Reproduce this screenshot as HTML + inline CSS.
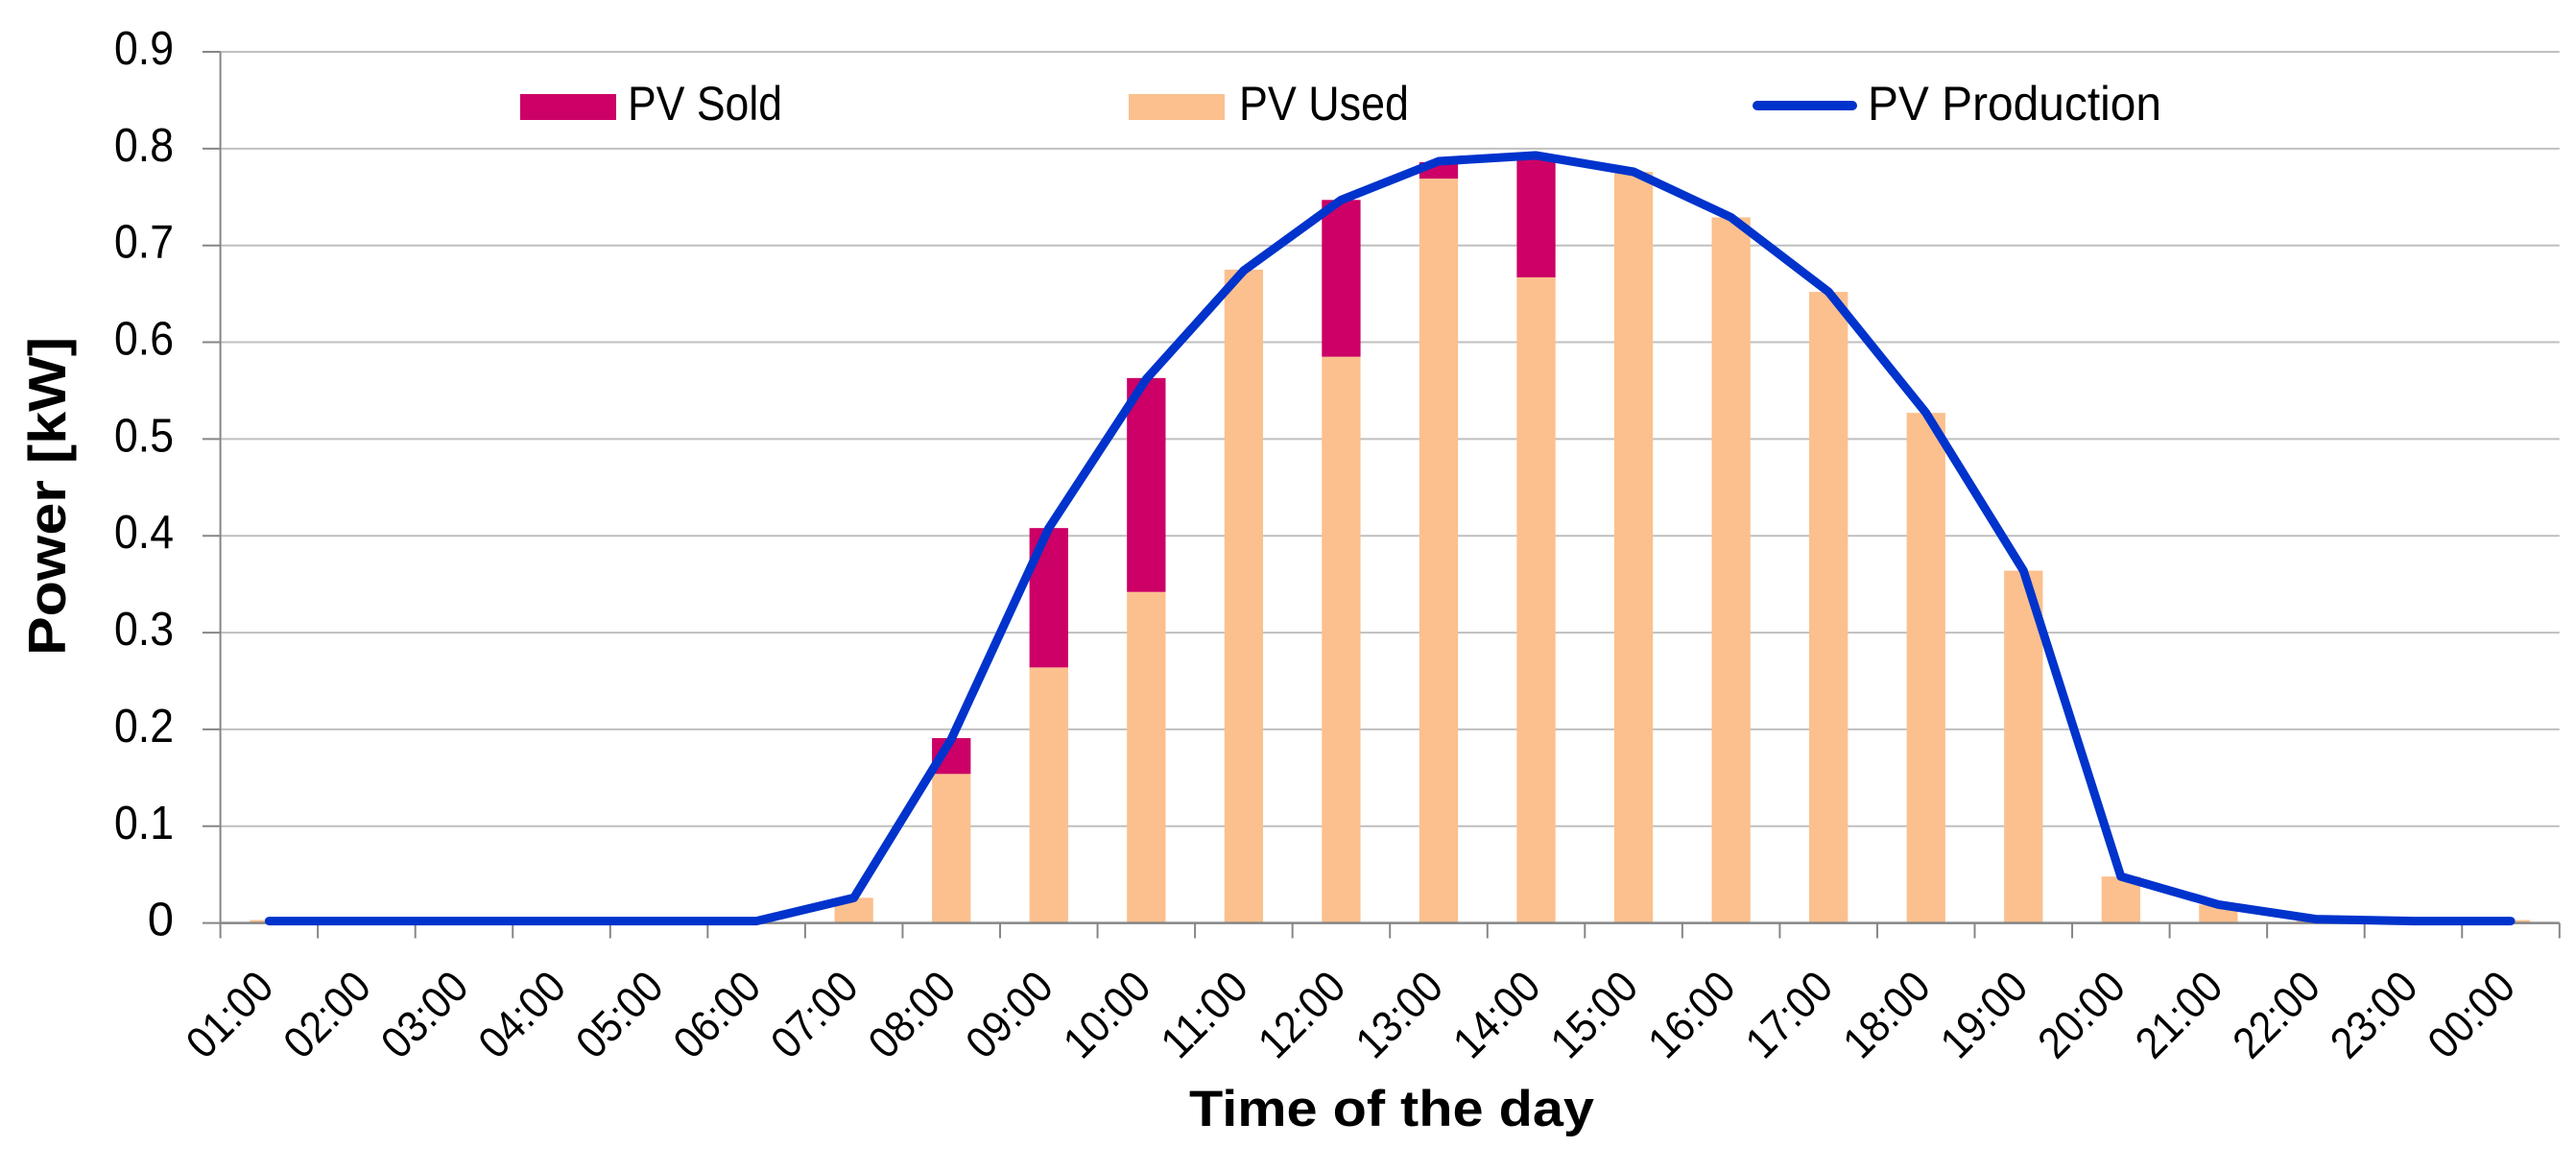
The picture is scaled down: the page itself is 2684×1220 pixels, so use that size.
<!DOCTYPE html>
<html>
<head>
<meta charset="utf-8">
<title>PV production chart</title>
<style>
html,body{margin:0;padding:0;background:#fff;}
svg{display:block;}
text{font-family:"Liberation Sans",sans-serif;fill:#000;}
</style>
</head>
<body>
<svg id="chart" xmlns="http://www.w3.org/2000/svg" width="2684" height="1220" viewBox="0 0 2684 1220">
  <rect x="0" y="0" width="2684" height="1220" fill="#ffffff"/>
  <g id="grid"></g>
  <g id="bars"></g>
  <g id="axes"></g>
  <g id="ylabels"></g>
  <g id="xlabels"></g>
  <polyline id="line" fill="none" stroke="#0033CC" stroke-width="9" stroke-linejoin="round" stroke-linecap="round"></polyline>

  <text transform="translate(68,683) rotate(-90)" font-size="55" font-weight="700" textLength="332" lengthAdjust="spacingAndGlyphs">Power [kW]</text>
  <text x="1239" y="1173" font-size="53" font-weight="700" textLength="422" lengthAdjust="spacingAndGlyphs">Time of the day</text>

  <g>
    <g>
      <rect x="542" y="98" width="100" height="27" fill="#CC0066"/>
      <text x="654" y="125" font-size="50" textLength="161" lengthAdjust="spacingAndGlyphs">PV Sold</text>
    </g>
    <g>
      <rect x="1176" y="98" width="100" height="27" fill="#FBC08E"/>
      <text x="1291" y="125" font-size="50" textLength="177" lengthAdjust="spacingAndGlyphs">PV Used</text>
    </g>
    <g>
      <line x1="1831" y1="110" x2="1930" y2="110" stroke="#0033CC" stroke-width="10" stroke-linecap="round"/>
      <text x="1946" y="125" font-size="50" textLength="306" lengthAdjust="spacingAndGlyphs">PV Production</text>
    </g>
  </g>
</svg>
<script>
const categories = ["01:00","02:00","03:00","04:00","05:00","06:00","07:00","08:00","09:00","10:00","11:00","12:00","13:00","14:00","15:00","16:00","17:00","18:00","19:00","20:00","21:00","22:00","23:00","00:00"];
const pvUsed = [0.003,0,0,0,0,0,0.026,0.154,0.264,0.342,0.675,0.585,0.769,0.667,0.776,0.729,0.652,0.527,0.364,0.048,0.019,0.004,0.003,0.003];
const pvSold = [0,0,0,0,0,0,0,0.037,0.144,0.221,0,0.162,0.017,0.125,0,0,0,0,0,0,0,0,0,0];
const pvProduction = [0.002,0.002,0.002,0.002,0.002,0.002,0.026,0.190,0.408,0.562,0.674,0.747,0.787,0.793,0.776,0.729,0.652,0.527,0.364,0.048,0.019,0.004,0.002,0.002];
const yTicks = [0,0.1,0.2,0.3,0.4,0.5,0.6,0.7,0.8,0.9];
const yTickLabels = ["0","0.1","0.2","0.3","0.4","0.5","0.6","0.7","0.8","0.9"];

const NS = "http://www.w3.org/2000/svg";
const plotLeft = 229.6, plotRight = 2666.8, plotBottom = 961.6, plotTop = 54;
const yMax = 0.9, barWidth = 40.3;
const step = (plotRight - plotLeft) / categories.length;
function xBand(i){ return plotLeft + step * (i + 0.5); }
function yScale(v){ return plotBottom - (plotBottom - plotTop) * v / yMax; }
function make(tag, parent, attrs){
  const el = document.createElementNS(NS, tag);
  for (const k in attrs) el.setAttribute(k, attrs[k]);
  parent.appendChild(el);
  return el;
}
const gridG = document.getElementById("grid");
const barsG = document.getElementById("bars");
const axesG = document.getElementById("axes");
const ylabG = document.getElementById("ylabels");
const xlabG = document.getElementById("xlabels");

yTicks.forEach(function(t, i){
  if (t > 0) {
    const g = make("line", gridG, {x1: plotLeft, x2: plotRight, y1: yScale(t), y2: yScale(t), stroke: "#BFBFBF", "stroke-width": 2});
    
    
  }
  const tick = make("line", axesG, {x1: 211, x2: plotLeft, y1: yScale(t), y2: yScale(t), stroke: "#868686", "stroke-width": 2});
  
  
  const label = make("text", ylabG, {x: 181, y: yScale(t) + 13, "font-size": 49, "text-anchor": "end"});
  if (yTickLabels[i].length > 1) {
    label.setAttribute("textLength", 62);
    label.setAttribute("lengthAdjust", "spacingAndGlyphs");
  }
  label.textContent = yTickLabels[i];
  
  
});

categories.forEach(function(c, i){
  const cx = xBand(i);
  if (pvUsed[i] > 0) {
    const used = make("rect", barsG, {x: cx - barWidth/2, y: yScale(pvUsed[i]), width: barWidth, height: yScale(0) - yScale(pvUsed[i]), fill: "#FBC08E"});
    
    
  }
  if (pvSold[i] > 0) {
    const sold = make("rect", barsG, {x: cx - barWidth/2, y: yScale(pvUsed[i] + pvSold[i]), width: barWidth, height: yScale(pvUsed[i]) - yScale(pvUsed[i] + pvSold[i]), fill: "#CC0066"});
    
    
  }
  const xe = cx + 7, ye = 1031;
  const lab = make("text", xlabG, {transform: "translate(" + xe + "," + ye + ") rotate(-45)", "font-size": 46, "text-anchor": "end", textLength: 105, lengthAdjust: "spacingAndGlyphs"});
  lab.textContent = c;
  
  
});

for (let i = 0; i <= categories.length; i++) {
  const x = plotLeft + step * i;
  const tick = make("line", axesG, {x1: x, x2: x, y1: plotBottom, y2: 977.5, stroke: "#868686", "stroke-width": 2});
  
  
}
const yAxis = make("line", axesG, {x1: plotLeft, x2: plotLeft, y1: plotTop, y2: plotBottom, stroke: "#868686", "stroke-width": 2});


const xAxis = make("line", axesG, {x1: plotLeft, x2: plotRight, y1: plotBottom, y2: plotBottom, stroke: "#868686", "stroke-width": 2.5});



document.getElementById("line").setAttribute("points", pvProduction.map(function(v, i){
  return xBand(i).toFixed(1) + "," + yScale(v).toFixed(1);
}).join(" "));
</script>
</body>
</html>
